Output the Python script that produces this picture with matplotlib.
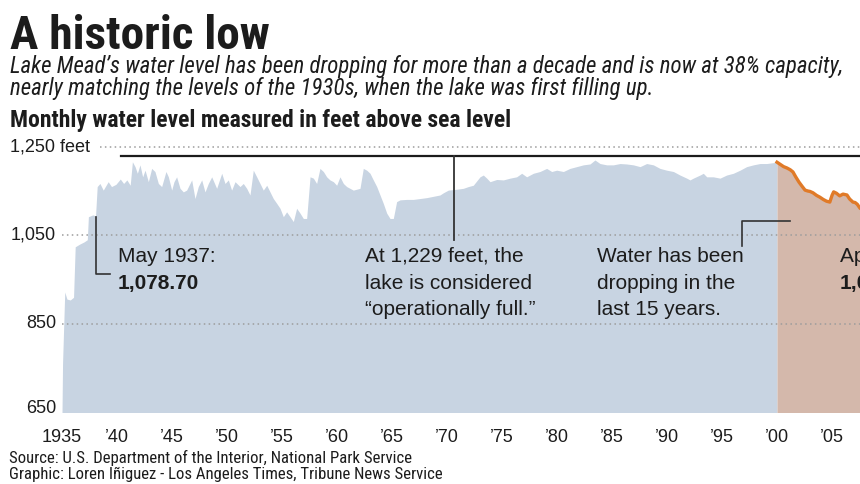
import matplotlib
matplotlib.use("Agg")
import matplotlib.pyplot as plt
from matplotlib import font_manager
import os

# ---- data (feet above sea level) ----
blue_years = [1935.00, 1935.05, 1935.25, 1935.45, 1935.75, 1936.05, 1936.20, 1936.60, 1937.00, 1937.30,
              1937.40, 1937.80, 1938.05, 1938.20, 1938.45, 1938.75, 1939.20, 1939.50, 1939.90, 1940.30,
              1940.60, 1940.90, 1941.20, 1941.40, 1941.64, 1941.85, 1942.09, 1942.33, 1942.55, 1942.85,
              1943.15, 1943.45, 1943.76, 1944.06, 1944.45, 1944.67, 1944.97, 1945.18, 1945.42, 1945.73,
              1946.03, 1946.33, 1946.79, 1947.09, 1947.39, 1947.70, 1948.00, 1948.30, 1948.61, 1949.06,
              1949.52, 1949.82, 1950.12, 1950.42, 1950.73, 1951.18, 1951.48, 1951.79, 1952.09, 1952.39,
              1952.70, 1953.00, 1953.30, 1953.61, 1953.91, 1954.21, 1954.52, 1954.82, 1955.12, 1955.42,
              1955.73, 1956.03, 1956.33, 1956.64, 1956.94, 1957.24, 1957.55, 1957.85, 1958.15, 1958.45,
              1958.76, 1959.06, 1959.36, 1959.67, 1959.97, 1960.27, 1960.58, 1960.88, 1961.18, 1961.48,
              1961.79, 1962.09, 1962.39, 1962.70, 1963.00, 1963.30, 1963.61, 1963.91, 1964.21, 1964.52,
              1964.82, 1965.12, 1965.42, 1965.73, 1966.33, 1966.94, 1967.55, 1968.15, 1968.76, 1969.36,
              1969.67, 1970.12, 1970.88, 1971.48, 1971.94, 1972.39, 1973.00, 1973.30, 1973.61, 1973.91,
              1974.52, 1975.12, 1975.73, 1976.33, 1976.79, 1977.24, 1977.85, 1978.45, 1979.06, 1979.52,
              1979.97, 1980.58, 1981.18, 1981.79, 1982.39, 1983.00, 1983.45, 1983.91, 1984.52, 1985.12,
              1985.73, 1986.33, 1986.94, 1987.55, 1988.15, 1988.76, 1989.36, 1989.97, 1990.58, 1991.18,
              1991.79, 1992.09, 1992.39, 1993.00, 1993.30, 1993.61, 1994.21, 1994.82, 1995.42, 1996.03,
              1996.64, 1997.24, 1997.85, 1998.45, 1999.06, 1999.67, 2000.00]
blue_levels = [650, 760, 922, 906, 904, 910, 1024, 1030, 1035, 1040,
               1092, 1096, 1094, 1160, 1167, 1152, 1171, 1160, 1165, 1177,
               1167, 1175, 1163, 1216, 1205, 1190, 1209, 1182, 1197, 1171,
               1201, 1194, 1167, 1160, 1194, 1182, 1152, 1171, 1182, 1156,
               1148, 1152, 1175, 1133, 1160, 1175, 1148, 1167, 1182, 1156,
               1190, 1167, 1175, 1152, 1171, 1160, 1167, 1156, 1141, 1197,
               1182, 1167, 1152, 1163, 1148, 1133, 1122, 1111, 1092, 1103,
               1092, 1081, 1111, 1100, 1088, 1088, 1182, 1179, 1167, 1201,
               1194, 1182, 1175, 1171, 1163, 1182, 1167, 1160, 1156, 1152,
               1154, 1156, 1201, 1197, 1190, 1175, 1160, 1141, 1122, 1100,
               1088, 1088, 1126, 1130, 1131, 1131, 1133, 1135, 1138, 1141,
               1146, 1152, 1154, 1156, 1160, 1163, 1182, 1186, 1179, 1171,
               1176, 1175, 1179, 1182, 1190, 1182, 1190, 1194, 1201, 1194,
               1197, 1194, 1201, 1205, 1209, 1211, 1220, 1212, 1209, 1209,
               1212, 1211, 1209, 1205, 1212, 1209, 1201, 1197, 1194, 1186,
               1179, 1175, 1179, 1186, 1190, 1182, 1182, 1179, 1186, 1190,
               1197, 1205, 1209, 1212, 1212, 1214, 1215]

recent_years = [2000.00, 2000.30, 2000.60, 2000.90, 2001.20, 2001.45, 2001.70, 2002.00, 2002.30, 2002.55,
                2002.80, 2003.00, 2003.27, 2003.60, 2003.90, 2004.20, 2004.50, 2004.80, 2005.00, 2005.15,
                2005.40, 2005.70, 2006.00, 2006.36, 2006.60, 2006.90, 2007.10, 2007.30, 2007.55, 2007.80]
recent_levels = [1215, 1210, 1205, 1202, 1198, 1193, 1182, 1170, 1160, 1152,
                 1150, 1149, 1146, 1140, 1136, 1131, 1127, 1125, 1140, 1148,
                 1145, 1139, 1143, 1141, 1132, 1125, 1124, 1120, 1111, 1108]

full_pool = 1229
yticks = [650, 850, 1050, 1250]
ytick_labels = ["650", "850", "1,050", "1,250 feet"]
xticks = [1935, 1940, 1945, 1950, 1955, 1960, 1965, 1970, 1975, 1980, 1985, 1990, 1995, 2000, 2005]
xtick_labels = ["1935", "\u201940", "\u201945", "\u201950", "\u201955", "\u201960", "\u201965", "\u201970",
                "\u201975", "\u201980", "\u201985", "\u201990", "\u201995", "\u201900", "\u201905"]

BLUE = "#c8d4e2"
PEACH = "#d4b8ab"
ORANGE = "#e07a28"
INK = "#1c1c1c"
BODY = ["Liberation Sans", "DejaVu Sans"]


def narrow_font(weight="normal", style="normal"):
    # look for an installed condensed sans, else plain Liberation Sans
    for fam in ["Roboto Condensed", "Liberation Sans Narrow", "Noto Sans", "Open Sans", "DejaVu Sans"]:
        fp = font_manager.FontProperties(family=fam, stretch="condensed", weight=weight, style=style)
        try:
            path = font_manager.findfont(fp, fallback_to_default=False)
        except Exception:
            continue
        base = os.path.basename(path).lower()
        if "condensed" in base or "narrow" in base:
            return font_manager.FontProperties(fname=path)
    return font_manager.FontProperties(family="Liberation Sans", weight=weight, style=style)


def fit_text(t, target_px, max_size):
    # shrink / grow the font so the line is about as wide as in the reference
    r = fig.canvas.get_renderer()
    w = t.get_window_extent(r).width
    t.set_fontsize(min(max_size, t.get_fontsize() * target_px / w))


W, H = 860, 484
fig = plt.figure(figsize=(W / 100, H / 100), dpi=100)
fig.patch.set_facecolor("white")

# axes: 1935 at x=62px, 11 px per year; 650 ft at y=412.5px, 0.443 px per foot
x0, px_yr = 62, 11.0
y650, px_ft = 412.5, 0.443
ytop = 1265
ax = fig.add_axes([x0 / W, (H - y650) / H, (W - x0) / W, (ytop - 650) * px_ft / H])
ax.set_xlim(1935, 1935 + (W - x0) / px_yr)
ax.set_ylim(650, ytop)
for s in ax.spines.values():
    s.set_visible(False)
ax.set_yticks([])
ax.set_xticks(xticks)
ax.set_xticklabels(xtick_labels, fontsize=13, family=BODY, color=INK)
ax.tick_params(axis="x", length=0, pad=12)

ax.fill_between(blue_years, 650, blue_levels, color=BLUE, lw=0, zorder=1)
ax.fill_between(recent_years, 650, recent_levels, color=PEACH, lw=0, zorder=1)
ax.plot(recent_years, recent_levels, color=ORANGE, lw=2.4, zorder=3, solid_joinstyle="round")

# dotted gridlines
for v in [850, 1050]:
    ax.axhline(v, xmin=0, xmax=1, color="#9c9c9c", lw=1.1, ls=(0, (1, 2.2)), zorder=2)
ax.axhline(1250, xmin=38 / (W - x0), xmax=1, color="#9c9c9c", lw=1.1, ls=(0, (1, 2.2)), zorder=2)

# y labels
yt = ax.get_yaxis_transform()
for v, lab in zip(yticks, ytick_labels):
    if v == 1250:
        ax.text((10 - x0) / (W - x0), v, lab, transform=yt, ha="left", va="center",
                fontsize=13, family=BODY, color=INK)
    else:
        yy = v + 10 if v == 650 else v
        ax.text((56 - x0) / (W - x0), yy, lab, transform=yt, ha="right", va="center",
                fontsize=13, family=BODY, color=INK)

# operationally full line
ax.axhline(full_pool, xmin=(121 - x0) / (W - x0), xmax=1, color=INK, lw=1.6, zorder=4)
ax.plot([1970.6, 1970.6], [1040, full_pool], color="#333333", lw=1.3, zorder=4)

# leaders
ax.plot([1938.1, 1938.1, 1939.35], [1092, 963, 963], color="#333333", lw=1.2, zorder=4)
ax.plot([1996.8, 1996.8, 2001.2], [1026, 1083, 1083], color="#333333", lw=1.2, zorder=4)

# annotations
fs = 15
ax.text(1940.1, 1003, "May 1937:", fontsize=fs, family=BODY, color=INK, va="center")
ax.text(1940.1, 942, "1,078.70", fontsize=fs, family=BODY, weight="bold", color=INK, va="center")
ax.text(1962.55, 1003, "At 1,229 feet, the", fontsize=fs, family=BODY, color=INK, va="center")
ax.text(1962.55, 942, "lake is considered", fontsize=fs, family=BODY, color=INK, va="center")
ax.text(1962.55, 883, "\u201coperationally full.\u201d", fontsize=fs, family=BODY, color=INK, va="center")
ax.text(1983.64, 1003, "Water has been", fontsize=fs, family=BODY, color=INK, va="center")
ax.text(1983.64, 942, "dropping in the", fontsize=fs, family=BODY, color=INK, va="center")
ax.text(1983.64, 883, "last 15 years.", fontsize=fs, family=BODY, color=INK, va="center")
ax.text(2005.7, 1003, "April 2015:", fontsize=fs, family=BODY, color=INK, va="center")
ax.text(2005.7, 942, "1,080.19", fontsize=fs, family=BODY, weight="bold", color=INK, va="center")

# headings
t_title = fig.text(10 / W, 1 - 49 / H, "A historic low", fontproperties=narrow_font("heavy"),
                   color=INK, va="baseline")
t_title.set_fontsize(36)
fit_text(t_title, 260, 37)

ital = narrow_font("normal", "italic")
t_sub1 = fig.text(10 / W, 1 - 67 / H, "Lake Mead\u2019s water level has been dropping for more than a decade "
                  "and is now at 38% capacity,", fontproperties=ital, color=INK, va="center")
t_sub2 = fig.text(10 / W, 1 - 89 / H, "nearly matching the levels of the 1930s, when the lake was first filling up.",
                  fontproperties=ital, color=INK, va="center")
t_sub2.set_fontsize(15)
fit_text(t_sub2, 648, 16.5)
t_sub1.set_fontsize(t_sub2.get_fontsize())

t_month = fig.text(10 / W, 1 - 121 / H, "Monthly water level measured in feet above sea level",
                   fontproperties=narrow_font("bold"), color=INK, va="center")
t_month.set_fontsize(14)
fit_text(t_month, 505, 17.5)

reg = narrow_font("normal")
t_src = fig.text(9 / W, 1 - 458 / H, "Source: U.S. Department of the Interior, National Park Service",
                 fontproperties=reg, color=INK, va="center")
t_src.set_fontsize(12)
fit_text(t_src, 404, 13)
t_gr = fig.text(9 / W, 1 - 474 / H, "Graphic: Loren I\u00f1iguez - Los Angeles Times, Tribune News Service",
                fontproperties=reg, color=INK, va="center")
t_gr.set_fontsize(t_src.get_fontsize())

fig.savefig("out.png", dpi=100)
